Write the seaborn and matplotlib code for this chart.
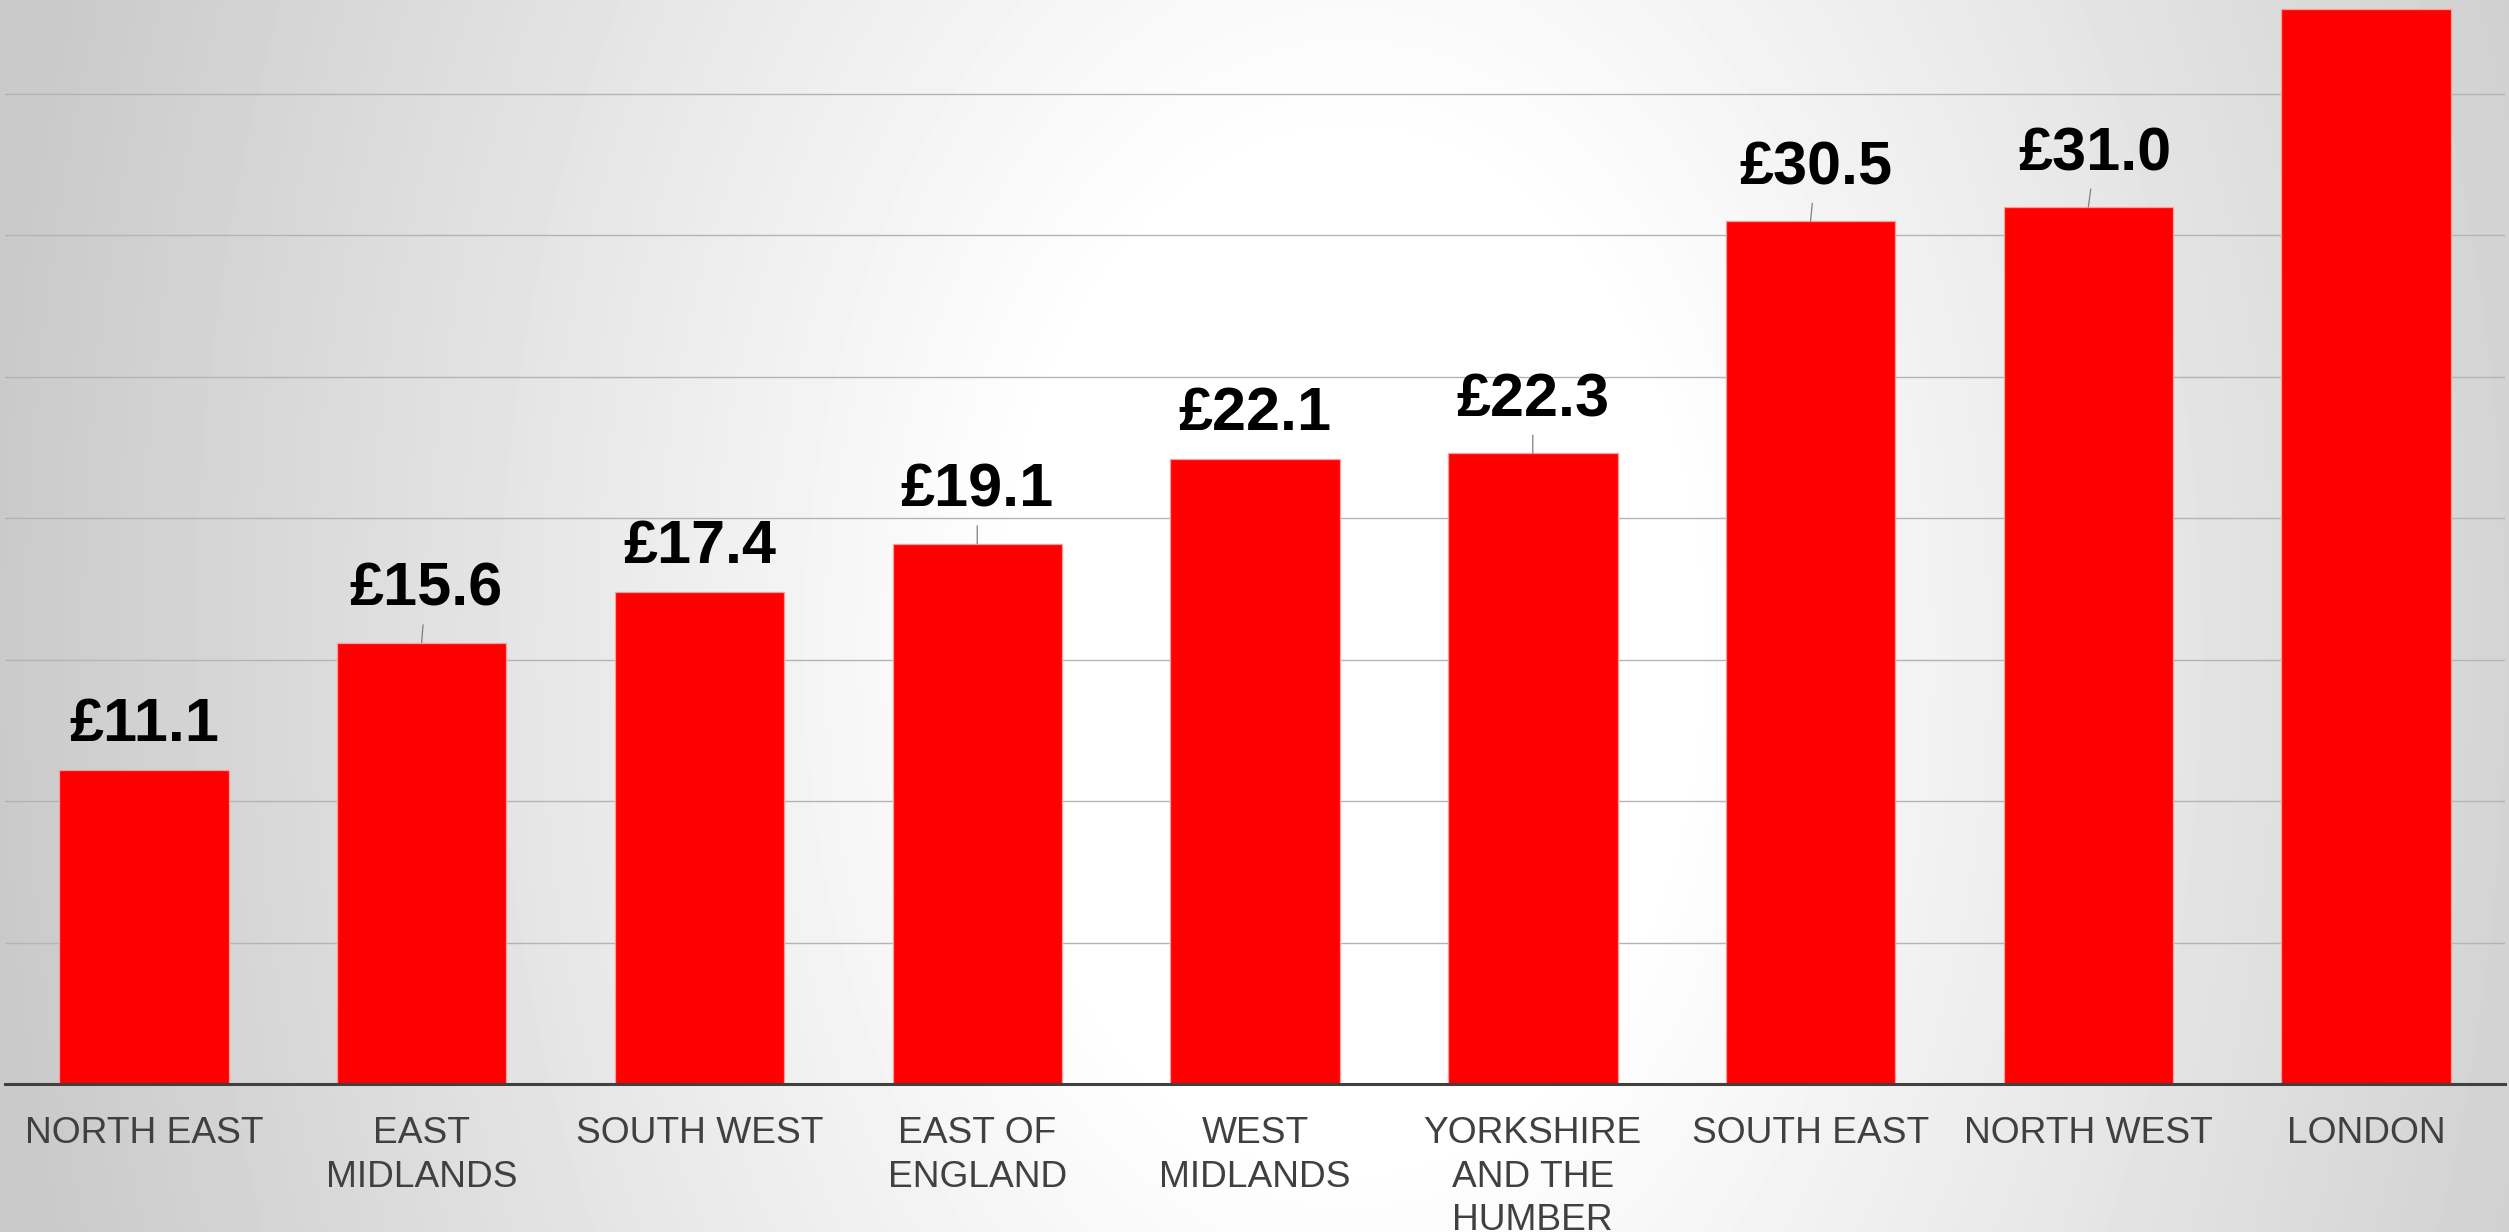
import numpy as np
import pandas as pd
import matplotlib
matplotlib.use("Agg")
import matplotlib.pyplot as plt
import seaborn as sns

# ---- data ----
regions = ["NORTH EAST", "EAST\nMIDLANDS", "SOUTH WEST", "EAST OF\nENGLAND",
           "WEST\nMIDLANDS", "YORKSHIRE\nAND THE\nHUMBER", "SOUTH EAST",
           "NORTH WEST", "LONDON"]
values = [11.1, 15.6, 17.4, 19.1, 22.1, 22.3, 30.5, 31.0, 38.0]
value_labels = ["£11.1", "£15.6", "£17.4", "£19.1", "£22.1", "£22.3", "£30.5", "£31.0", ""]
has_leader = [False, True, False, True, False, True, True, True, False]
label_dx = [0, 4, 0, 0, 0, 0, 5, 7, 0]

sns.set_style("white")
plt.rcParams["font.family"] = ["Liberation Sans", "DejaVu Sans"]

W, H, DPI = 2509, 1232, 100
fig = plt.figure(figsize=(W / DPI, H / DPI), dpi=DPI)

# ---- radial gradient background ----
bg = fig.add_axes([0, 0, 1, 1], zorder=-10)
yy, xx = np.mgrid[0:H, 0:W]
cx, cy, rx, ry = 1350.0, 650.0, 1350.0, 2000.0
r = np.sqrt(((xx - cx) / rx) ** 2 + ((yy - cy) / ry) ** 2)
t = np.clip((r - 0.25) / 0.75, 0, 1)
grad = 255 - 53 * t
bg.imshow(grad, cmap="gray", vmin=0, vmax=255, aspect="auto", interpolation="bilinear")
bg.axis("off")

# ---- main axes ----
ax = fig.add_axes([5 / W, (H - 1084) / H, 2500 / W, 1084 / H])
ax.set_facecolor("none")
df = pd.DataFrame({"region": regions, "value": values})
sns.barplot(data=df, x="region", y="value", color="#FF0000", saturation=1,
            width=0.61, edgecolor="#ff9c9c", linewidth=0.9, ax=ax, zorder=3)

ax.set_xlim(-0.5, len(regions) - 0.5)
ax.set_ylim(0, 38.32)
ax.set_yticks(np.arange(0, 40, 5))
ax.yaxis.grid(True, color="#b4b4b4", linewidth=1.0, zorder=0)
ax.set_axisbelow(True)
ax.tick_params(axis="y", left=False, labelleft=False)
ax.tick_params(axis="x", length=0, pad=23, labelsize=26.7, labelcolor="#404040")
for lab in ax.get_xticklabels():
    lab.set_linespacing(1.32)
ax.set_xlabel("")
ax.set_ylabel("")
for s in ["top", "right", "left"]:
    ax.spines[s].set_visible(False)
ax.spines["bottom"].set_color("#404040")
ax.spines["bottom"].set_linewidth(2.2)
ax.spines["bottom"].set_zorder(5)

# ---- value labels ----
for i, (v, txt) in enumerate(zip(values, value_labels)):
    if not txt:
        continue
    dy = 37 if has_leader[i] else 29
    kw = {}
    if has_leader[i]:
        kw["arrowprops"] = dict(arrowstyle="-", color="#7f7f7f", lw=0.9,
                                shrinkA=2, shrinkB=0)
    ax.annotate(txt, xy=(i, v), xytext=(label_dx[i], dy), textcoords="offset pixels",
                ha="center", va="baseline", fontsize=44, fontweight="bold",
                color="black", zorder=6, **kw)

fig.savefig("out.png", dpi=DPI)
